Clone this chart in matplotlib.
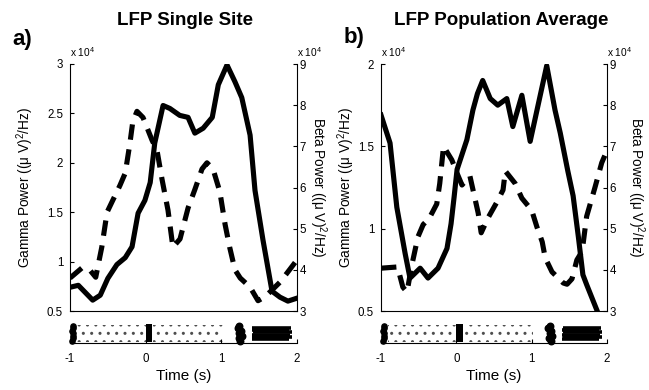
import matplotlib
matplotlib.use('Agg')
import matplotlib.pyplot as plt
import numpy as np

plt.rcParams['font.family'] = ['Liberation Sans', 'DejaVu Sans']
plt.rcParams['axes.unicode_minus'] = False
plt.rcParams['mathtext.fontset'] = 'custom'
plt.rcParams['mathtext.rm'] = 'Liberation Sans'
plt.rcParams['hatch.linewidth'] = 1.0

# ---------------- data ----------------
# Panel a) LFP single site
t_gamma_a = [-1.0, -0.89, -0.70, -0.60, -0.50, -0.38, -0.27, -0.18, -0.10, -0.01, 0.06, 0.12,
             0.23, 0.32, 0.45, 0.56, 0.65, 0.76, 0.88, 0.96, 1.075, 1.18, 1.27, 1.38, 1.445,
             1.55, 1.67, 1.775, 1.88, 2.0]
gamma_a = [0.74, 0.76, 0.61, 0.66, 0.83, 0.97, 1.04, 1.15, 1.49, 1.62, 1.80, 2.20,
           2.58, 2.55, 2.48, 2.46, 2.30, 2.35, 2.46, 2.79, 2.99, 2.82, 2.66, 2.28, 1.72,
           1.22, 0.70, 0.64, 0.60, 0.63]
t_beta_a = [-1.0, -0.84, -0.74, -0.66, -0.58, -0.51, -0.445, -0.34, -0.27, -0.21, -0.17, -0.115,
            -0.035, 0.084, 0.15, 0.216, 0.295, 0.36, 0.454, 0.56, 0.65, 0.745, 0.81, 0.89,
            0.98, 1.05, 1.11, 1.18, 1.25, 1.38, 1.485, 1.58, 1.67, 1.775, 1.88, 2.0]
beta_a = [3.80, 4.05, 4.00, 3.82, 4.55, 5.40, 5.65, 6.05, 6.35, 7.05, 7.60, 7.85,
          7.70, 7.15, 6.90, 6.20, 5.45, 4.55, 4.75, 5.50, 5.95, 6.45, 6.60, 6.45,
          5.90, 5.10, 4.55, 4.00, 3.80, 3.58, 3.25, 3.35, 3.51, 3.70, 3.95, 4.24]

# Panel b) LFP population average
t_gamma_b = [-1.0, -0.88, -0.79, -0.68, -0.615, -0.48, -0.376, -0.243, -0.124, -0.07, -0.03,
             0.01, 0.14, 0.22, 0.28, 0.35, 0.45, 0.55, 0.67, 0.75, 0.87, 0.98, 1.20, 1.31,
             1.38, 1.48, 1.55, 1.62, 1.68, 1.73, 1.87, 2.0]
gamma_b = [1.69, 1.52, 1.13, 0.85, 0.70, 0.76, 0.70, 0.76, 0.88, 1.03, 1.19,
           1.36, 1.54, 1.72, 1.82, 1.90, 1.79, 1.75, 1.79, 1.62, 1.81, 1.53, 1.99, 1.72,
           1.58, 1.35, 1.20, 0.95, 0.72, 0.66, 0.50, 0.33]
t_beta_b = [-1.0, -0.78, -0.71, -0.655, -0.59, -0.51, -0.44, -0.36, -0.26, -0.22, -0.17, -0.06,
            0.02, 0.075, 0.18, 0.29, 0.33, 0.42, 0.54, 0.62, 0.65, 0.78, 0.87, 1.00, 1.07,
            1.14, 1.18, 1.27, 1.42, 1.47, 1.535, 1.60, 1.67, 1.73, 1.84, 1.93, 2.0]
beta_b = [4.04, 4.07, 3.58, 3.46, 4.12, 4.80, 5.10, 5.25, 5.60, 6.10, 7.00, 6.67,
          6.30, 6.06, 6.28, 5.38, 4.90, 5.26, 5.65, 5.94, 6.40, 6.10, 5.74, 5.45, 5.04,
          4.68, 4.29, 3.95, 3.68, 3.65, 3.78, 4.24, 4.45, 5.30, 6.00, 6.60, 6.90]

gamma_ticks_a = [0.5, 1, 1.5, 2, 2.5, 3]
gamma_ticks_b = [0.5, 1, 1.5, 2]
beta_ticks = [3, 4, 5, 6, 7, 8, 9]
time_ticks = [-1, 0, 1, 2]
time_ticklabels = ['-1', '0', '1', '2']

# behavioural event raster (trial rows)
trial_rows = [1, 2, 3, 4, 5, 6, 7]
cue_times = [-0.97, -0.965, -0.96, -0.965, -0.97, -0.965, -0.96]
stim_windows = [(-0.91, 0.0), (0.1, 1.02)]
go_window = (0.0, 0.09)
resp_times = [1.25, 1.23, 1.27, 1.24, 1.26, 1.22, 1.24]
reward_start = [1.40, 1.41, 1.40, 1.42, 1.40, 1.41]
reward_end = [1.90, 1.93, 1.91, 1.93, 1.89, 1.92]
reward_rows = [1.6, 2.5, 3.4, 4.3, 5.2, 6.1]

panels = [
    dict(tg=t_gamma_a, g=gamma_a, tb=t_beta_a, b=beta_a, glim=(0.5, 3), gticks=gamma_ticks_a,
         title='LFP Single Site', letter='a)', x0=70, w=227, lab_l=36, lab_r=307, tx=0.505,
         let_xy=(12, 40)),
    dict(tg=t_gamma_b, g=gamma_b, tb=t_beta_b, b=beta_b, glim=(0.5, 2), gticks=gamma_ticks_b,
         title='LFP Population Average', letter='b)', x0=381, w=226, lab_l=357, lab_r=625, tx=0.53,
         let_xy=(344, 38)),
]

W, H = 649, 390
fig = plt.figure(figsize=(W / 100, H / 100), dpi=100)

ytop, ybot = 64, 311
sy_top, sy_bot = 323, 343

dash = (0, (3.0, 1.9))
lw = 3.7
tick_fs = 8.3
lab_fs = 9.8

for p in panels:
    ax = fig.add_axes([p['x0'] / W, 1 - ybot / H, p['w'] / W, (ybot - ytop) / H])
    ax.plot(p['tg'], np.array(p['g']), color='k', lw=lw, solid_joinstyle='round', zorder=3)
    ax.set_xlim(-1, 2)
    ax.set_ylim(*p['glim'])
    ax.set_yticks(p['gticks'])
    ax.set_yticklabels([('%g' % v) for v in p['gticks']])
    ax.set_xticks([])
    for s in ['top', 'right']:
        ax.spines[s].set_visible(False)
    ax.spines['left'].set_linewidth(0.8)
    ax.spines['bottom'].set_linewidth(0.8)
    ax.tick_params(axis='y', direction='in', length=3, width=0.8, labelsize=tick_fs, pad=5)
    ax.set_ylabel('Gamma Power ((\u03bc V)$^2$/Hz)', fontsize=lab_fs)
    ax.yaxis.set_label_coords((p['lab_l'] - p['x0']) / p['w'], 0.5)
    ax.text(0, 1.022, 'x 10$^{4}$', transform=ax.transAxes, fontsize=7.3, ha='left', va='bottom')

    ax2 = ax.twinx()
    ax2.plot(p['tb'], p['b'], color='k', lw=lw, linestyle=dash, dash_capstyle='butt', zorder=3)
    ax2.set_ylim(3, 9)
    ax2.set_yticks(beta_ticks)
    ax2.set_yticklabels([str(v) for v in beta_ticks])
    for s in ['top', 'left', 'bottom']:
        ax2.spines[s].set_visible(False)
    ax2.spines['right'].set_linewidth(0.8)
    ax2.tick_params(axis='y', direction='in', length=3, width=0.8, labelsize=tick_fs, pad=2)
    ax2.set_ylabel('Beta Power ((\u03bc V)$^2$/Hz)', fontsize=lab_fs, rotation=270, va='bottom')
    ax2.yaxis.set_label_coords((p['lab_r'] - p['x0']) / p['w'], 0.5)
    ax2.text(1.0, 1.022, 'x 10$^{4}$', transform=ax2.transAxes, fontsize=7.3, ha='left', va='bottom')

    ax.text(p['tx'], (ybot - 20) / (ybot - ytop), p['title'], transform=ax.transAxes,
            fontsize=13.5, fontweight='bold', ha='center', va='center')
    fig.text(p['let_xy'][0] / W, 1 - p['let_xy'][1] / H, p['letter'], fontsize=16,
             fontweight='bold', ha='left', va='center')

    # event raster strip
    sa = fig.add_axes([p['x0'] / W, 1 - sy_bot / H, p['w'] / W, (sy_bot - sy_top) / H])
    sa.set_xlim(-1, 2)
    sa.set_ylim(0, 8)
    for s in ['top', 'right', 'left']:
        sa.spines[s].set_visible(False)
    sa.spines['bottom'].set_linewidth(0.8)
    sa.set_yticks([])
    sa.set_xticks(time_ticks)
    sa.set_xticklabels(time_ticklabels)
    sa.tick_params(axis='x', direction='in', length=3, width=0.8, labelsize=tick_fs, pad=7)
    sa.set_xlabel('Time (s)', fontsize=11, labelpad=3)
    for (a, b) in stim_windows:
        sa.fill_between([a, b], 0.6, 7.4, facecolor='none', edgecolor='0.3', hatch='..',
                        linewidth=0)
    sa.fill_between(list(go_window), 0.4, 7.6, facecolor='k', edgecolor='none')
    sa.scatter(cue_times, trial_rows, s=14, color='k', clip_on=False, zorder=3)
    sa.scatter(resp_times, trial_rows, s=22, color='k', clip_on=False, zorder=3)
    sa.hlines(reward_rows, reward_start, reward_end, colors='k', lw=2.6)

fig.savefig('out.png', dpi=100)
